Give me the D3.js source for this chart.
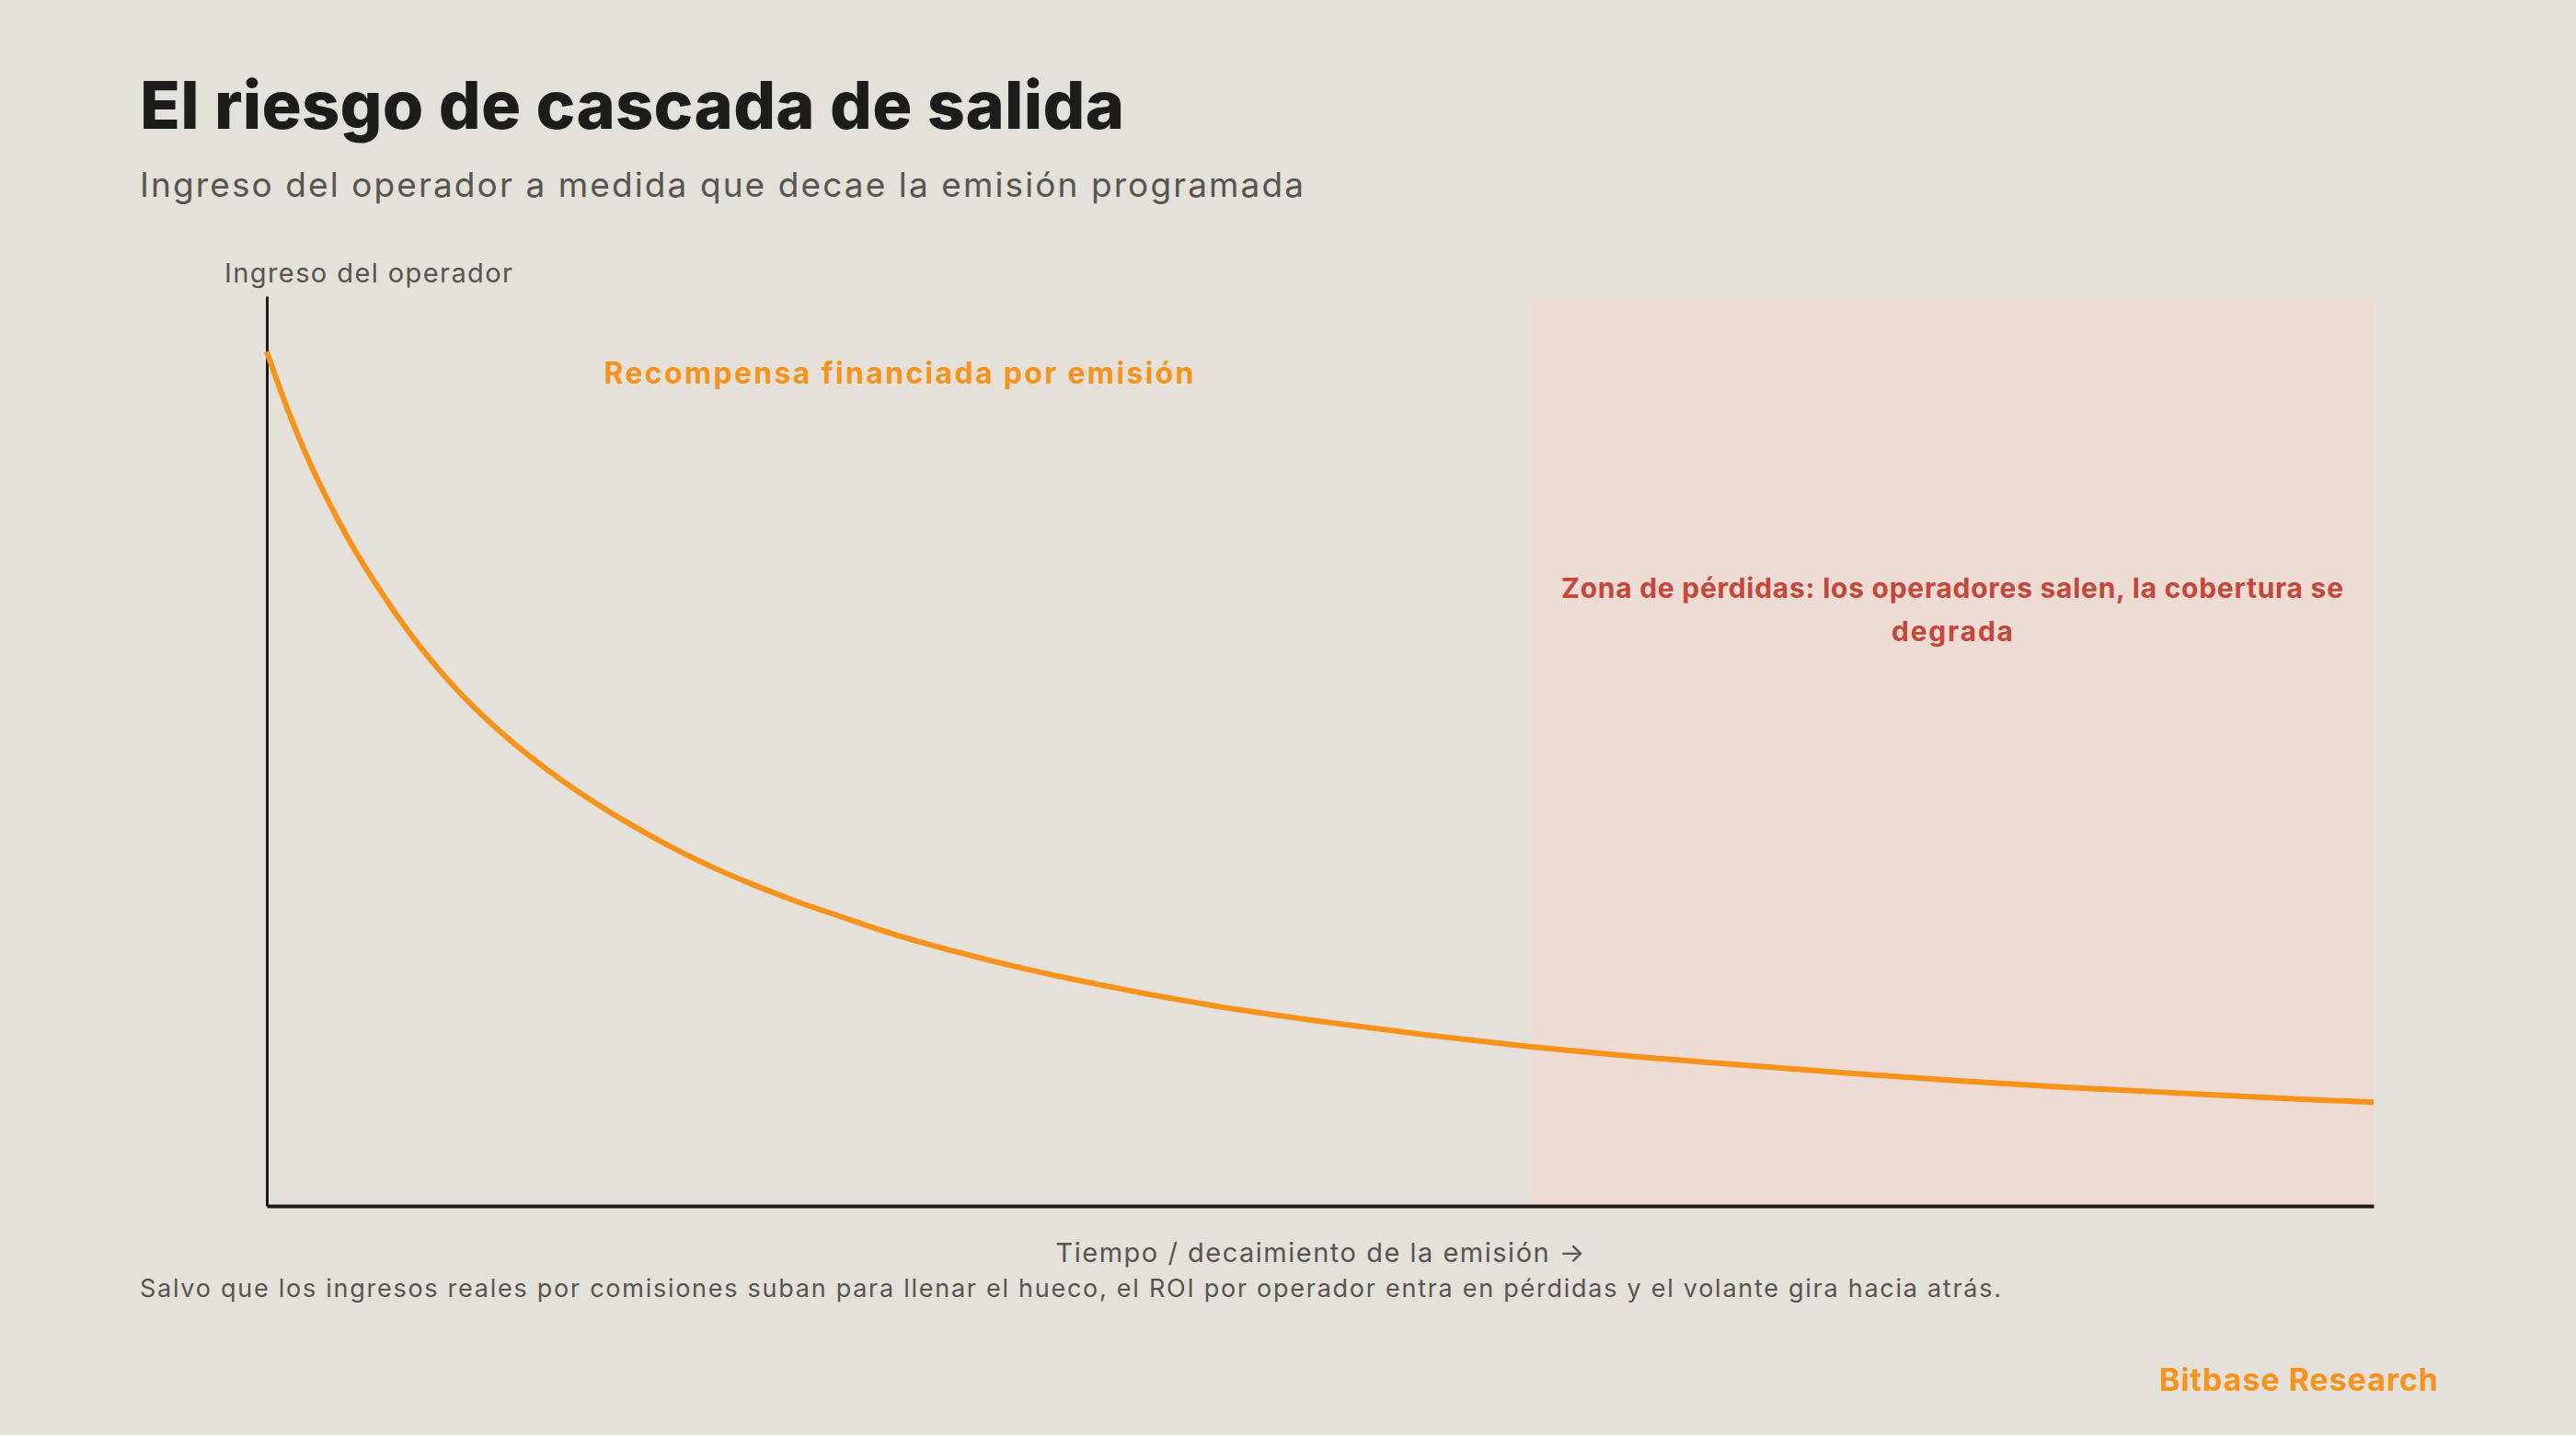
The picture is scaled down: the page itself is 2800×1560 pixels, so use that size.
<!DOCTYPE html>
<html lang="es">
<head>
<meta charset="utf-8">
<title>El riesgo de cascada de salida</title>
<script src="https://cdn.jsdelivr.net/npm/d3@7"></script>
<style>
  html, body { margin: 0; padding: 0; background: #e4e0da; }
  svg { display: block; font-family: Inter, "Noto Sans", sans-serif; }
</style>
</head>
<body>
<div id="canvas"></div>
<script>
// time along the emission schedule (0 = launch, 100 = end of chart)
const timeSteps = [0, 1, 2, 3, 4, 5, 7, 9, 11, 13, 15, 17, 19, 21, 23, 25, 27, 30,
  35, 40, 45, 50, 55, 60, 65, 70, 75, 80, 85, 90, 95, 100];
// operator income (relative units, 0-100)
const operatorIncome = [93.9, 87.5, 81.9, 77.1, 72.8, 69.0, 62.3, 56.8, 52.3, 48.5, 45.2,
  42.3, 39.7, 37.4, 35.4, 33.6, 32.0, 29.7, 26.6, 24.1, 22.0, 20.3, 18.8, 17.5, 16.4,
  15.5, 14.6, 13.8, 13.1, 12.5, 11.9, 11.4];
// loss zone covers the tail of the schedule
const lossZone = [60, 100];

const title = "El riesgo de cascada de salida";
const subtitle = "Ingreso del operador a medida que decae la emisión programada";
const yLabel = "Ingreso del operador";
const xLabel = "Tiempo / decaimiento de la emisión →";
const rewardLabel = "Recompensa financiada por emisión";
const zoneLabel = ["Zona de pérdidas: los operadores salen, la cobertura se", "degrada"];
const note = "Salvo que los ingresos reales por comisiones suban para llenar el hueco, el ROI por operador entra en pérdidas y el volante gira hacia atrás.";
const brand = "Bitbase Research";

const data = timeSteps.map((t, i) => ({ t: t, v: operatorIncome[i] }));

const width = 2800;
const height = 1560;
const margin = { top: 322, left: 290, bottom: 249, right: 220 };
const iwidth = width - margin.left - margin.right;
const iheight = height - margin.top - margin.bottom;

const orange = "#f7931a";
const ink = "#1d1c1b";
const grey = "#58544f";

const svg = d3.select("#canvas").append("svg")
  .attr("width", width)
  .attr("height", height);

svg.append("rect")
  .attr("width", width)
  .attr("height", height)
  .attr("fill", "#e4e0da");

// Poppins is not installed, so stretch the spacing to the reference widths
function label(sel, str, len) {
  return sel.attr("textLength", len).attr("lengthAdjust", "spacing").text(str);
}

// headings
label(svg.append("text")
  .attr("x", 152).attr("y", 140)
  .attr("fill", ink)
  .attr("font-size", 72)
  .attr("font-weight", 800), title, 1070);

label(svg.append("text")
  .attr("x", 152).attr("y", 214)
  .attr("fill", grey)
  .attr("font-size", 37), subtitle, 1265);

const x = d3.scaleLinear().domain([0, 100]).range([0, iwidth]);
const y = d3.scaleLinear().domain([0, 100]).range([iheight, 0]);

const g = svg.append("g")
  .attr("transform", `translate(${margin.left},${margin.top})`);

// loss zone
g.append("rect")
  .attr("x", x(lossZone[0]))
  .attr("y", y(100))
  .attr("width", x(lossZone[1]) - x(lossZone[0]))
  .attr("height", y(0) - y(100))
  .attr("fill", "#eddbd4");

const zoneText = g.append("text")
  .attr("text-anchor", "middle")
  .attr("fill", "#c4473a")
  .attr("font-size", 30)
  .attr("font-weight", 700);
zoneLabel.forEach((line, i) => {
  const span = zoneText.append("tspan")
    .attr("x", x((lossZone[0] + lossZone[1]) / 2))
    .attr("y", y(100) + 328 + i * 47);
  label(span, line, i === 0 ? 850 : 132);
});

label(g.append("text")
  .attr("x", x(30))
  .attr("y", y(100) + 95)
  .attr("text-anchor", "middle")
  .attr("fill", orange)
  .attr("font-size", 32)
  .attr("font-weight", 700), rewardLabel, 641);

// axes: plain lines, no ticks
g.append("g")
  .attr("class", "y--axis")
  .call(d3.axisLeft(y).tickValues([]).tickSizeOuter(0))
  .call(a => a.select(".domain").attr("stroke", ink).attr("stroke-width", 3));

g.append("g")
  .attr("class", "x--axis")
  .attr("transform", `translate(0, ${iheight})`)
  .call(d3.axisBottom(x).tickValues([]).tickSizeOuter(0))
  .call(a => a.select(".domain").attr("stroke", ink).attr("stroke-width", 4));

const line = d3.line()
  .x(d => x(d.t))
  .y(d => y(d.v))
  .curve(d3.curveCatmullRom.alpha(0.5));

g.append("path")
  .datum(data)
  .attr("fill", "none")
  .attr("stroke", orange)
  .attr("stroke-width", 6)
  .attr("d", line);

// axis labels
label(svg.append("text")
  .attr("x", 244).attr("y", 307)
  .attr("fill", grey)
  .attr("font-size", 29), yLabel, 313);

label(svg.append("text")
  .attr("x", margin.left + iwidth / 2).attr("y", 1372)
  .attr("text-anchor", "middle")
  .attr("fill", grey)
  .attr("font-size", 29), xLabel, 575);

label(svg.append("text")
  .attr("x", 152).attr("y", 1410)
  .attr("fill", grey)
  .attr("font-size", 27), note, 2023);

label(svg.append("text")
  .attr("x", 2650).attr("y", 1512)
  .attr("text-anchor", "end")
  .attr("fill", orange)
  .attr("font-size", 34)
  .attr("font-weight", 700), brand, 303);
</script>
</body>
</html>
